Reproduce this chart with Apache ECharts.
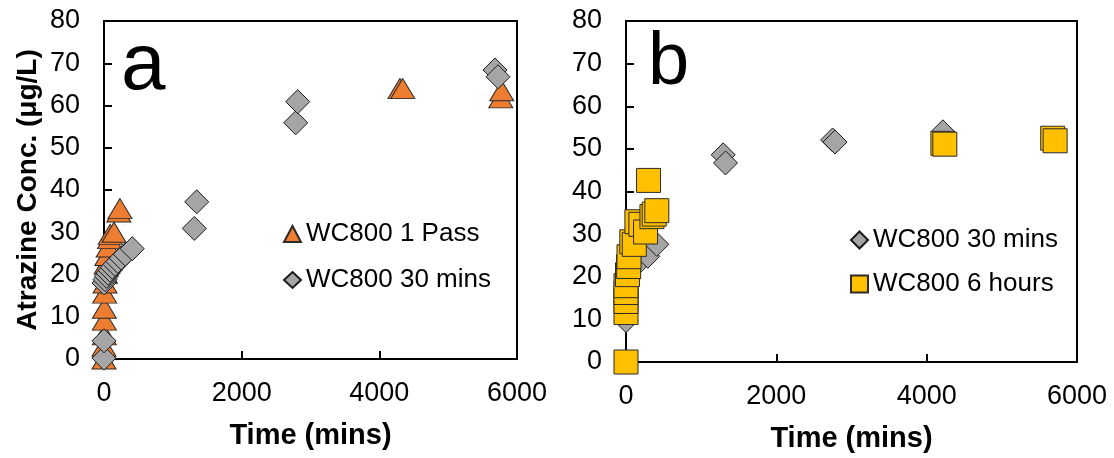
<!DOCTYPE html>
<html>
<head>
<meta charset="utf-8">
<script src="https://cdn.jsdelivr.net/npm/echarts@6/dist/echarts.min.js"></script>
<style>
  html, body { margin: 0; padding: 0; background: #fff; }
  #chart { width: 1114px; height: 458px; }
</style>
</head>
<body>
<div id="chart"></div>
<script>
// Axis ticks shared by both panels
const timeTicks = [0, 2000, 4000, 6000];
const concTicks = [0, 10, 20, 30, 40, 50, 60, 70, 80];

// Panel a: [time (mins), atrazine (µg/L)]
const onePassA = [
  [0, 0], [0, 3], [5, 5.7], [5, 9.2], [5, 12], [10, 15.6], [15, 18], [20, 20.3],
  [30, 22.5], [40, 24.5], [60, 26.5], [80, 28.5], [90, 29.5], [145, 30],
  [215, 34.8], [232, 35.6],
  [4300, 64], [4340, 64],
  [5764, 61.8], [5778, 63.5]
];
const thirtyMinA = [
  [0, 0.2], [0, 4.3], [0, 18.0], [15, 18.8], [35, 19.6], [60, 20.3], [90, 21.0],
  [120, 21.7], [160, 22.4], [200, 23.1], [250, 23.9], [310, 24.8], [410, 26.1],
  [1312, 30.9], [1347, 37.2],
  [2785, 55.9], [2814, 60.9],
  [5681, 68.4], [5724, 66.8]
];

// Panel b
const thirtyMinB = [
  [0, 9.7], [30, 19.5], [120, 22.5], [290, 24.8], [410, 27.6],
  [1293, 48.6], [1324, 46.7],
  [2749, 52.1], [2781, 51.6],
  [4216, 54.0]
];
const sixHoursB = [
  [0, 0], [0, 11.6], [0, 14.2], [0, 16.3], [0, 17.9], [20, 20.5], [35, 22.4],
  [40, 24.7], [77, 28.2], [110, 27.6], [145, 32.9], [198, 32.3], [260, 30.5],
  [300, 42.6], [345, 34.1], [375, 34.7], [410, 35.5],
  [4216, 51.3], [4242, 51.1],
  [5677, 52.5], [5709, 51.9]
];

const FONT = '"Liberation Sans", Arial, sans-serif';
const step = (t) => t[1] - t[0];

function xAxisFor(gridIndex) {
  return {
    type: 'value', gridIndex,
    min: timeTicks[0], max: timeTicks[timeTicks.length - 1], interval: step(timeTicks),
    name: 'Time (mins)', nameLocation: 'middle', nameGap: 62,
    nameTextStyle: { fontFamily: FONT, fontSize: 29, fontWeight: 'bold', color: '#000' },
    axisLine: { show: true, onZero: false, lineStyle: { color: '#000', width: 2 } },
    axisTick: { show: true, inside: true, length: 8, lineStyle: { color: '#000', width: 2 } },
    axisLabel: { fontFamily: FONT, fontSize: 27, color: '#000', margin: 21, formatter: (v) => String(v) },
    splitLine: { show: false }
  };
}
function yAxisFor(gridIndex, title) {
  const ax = {
    type: 'value', gridIndex,
    min: concTicks[0], max: concTicks[concTicks.length - 1], interval: step(concTicks),
    axisLine: { show: true, onZero: false, lineStyle: { color: '#000', width: 2 } },
    axisTick: { show: true, inside: true, length: 8, lineStyle: { color: '#000', width: 2 } },
    axisLabel: { fontFamily: FONT, fontSize: 27, color: '#000', margin: 24 },
    splitLine: { show: false }
  };
  if (title) {
    ax.name = title;
    ax.nameLocation = 'middle';
    ax.nameGap = 62;
    ax.nameTextStyle = { fontFamily: FONT, fontSize: 28, fontWeight: 'bold', color: '#000' };
  }
  return ax;
}

const triStyle = { color: '#ED7D31', borderColor: '#2b2b2b', borderWidth: 1, opacity: 1 };
const diaStyle = { color: '#A5A5A5', borderColor: '#1a1a1a', borderWidth: 1, opacity: 1 };
const sqStyle  = { color: '#FFC000', borderColor: '#2b2b2b', borderWidth: 1, opacity: 1 };

const legendText = { fontFamily: FONT, fontSize: 26, color: '#000', lineHeight: 30 };

const option = {
  animation: false,
  backgroundColor: '#fff',
  grid: [
    { left: 104, top: 21, width: 413, height: 338, show: true, borderColor: '#000', borderWidth: 2, containLabel: false },
    { left: 626, top: 21, width: 451, height: 346, show: true, borderColor: '#000', borderWidth: 2, containLabel: false }
  ],
  xAxis: [xAxisFor(0), xAxisFor(1)],
  yAxis: [yAxisFor(0, 'Atrazine Conc. (μg/L)'), yAxisFor(1, null)],
  legend: [
    {
      orient: 'vertical', left: 278, top: 214, itemGap: 16,
      itemWidth: 17, itemHeight: 16, textStyle: legendText,
      data: [{ name: 'WC800 1 Pass', icon: 'triangle' }, { name: 'WC800 30 mins', icon: 'diamond' }]
    },
    {
      orient: 'vertical', left: 845, top: 220, itemGap: 14,
      itemWidth: 17, itemHeight: 17, textStyle: legendText,
      data: [{ name: 'WC800 30 mins', icon: 'diamond' }, { name: 'WC800 6 hours', icon: 'rect' }]
    }
  ],
  graphic: [
    { type: 'text', left: 121, top: 27, style: { text: 'a', font: '80px ' + FONT, fill: '#000' } },
    { type: 'text', left: 648, top: 27, style: { text: 'b', font: '74px ' + FONT, fill: '#000' } }
  ],
  series: [
    { name: 'WC800 1 Pass', type: 'scatter', xAxisIndex: 0, yAxisIndex: 0, symbol: 'triangle',
      symbolSize: [24, 20], itemStyle: triStyle, data: onePassA, clip: false },
    { name: 'WC800 30 mins', type: 'scatter', xAxisIndex: 0, yAxisIndex: 0, symbol: 'diamond',
      symbolSize: 24, itemStyle: diaStyle, data: thirtyMinA, clip: false },
    { name: 'WC800 30 mins', type: 'scatter', xAxisIndex: 1, yAxisIndex: 1, symbol: 'diamond',
      symbolSize: 24, itemStyle: diaStyle, data: thirtyMinB, clip: false },
    { name: 'WC800 6 hours', type: 'scatter', xAxisIndex: 1, yAxisIndex: 1, symbol: 'rect',
      symbolSize: 24, itemStyle: sqStyle, data: sixHoursB, clip: false }
  ]
};

const chart = echarts.init(document.getElementById('chart'), null, { renderer: 'canvas' });
chart.setOption(option);
</script>
</body>
</html>
